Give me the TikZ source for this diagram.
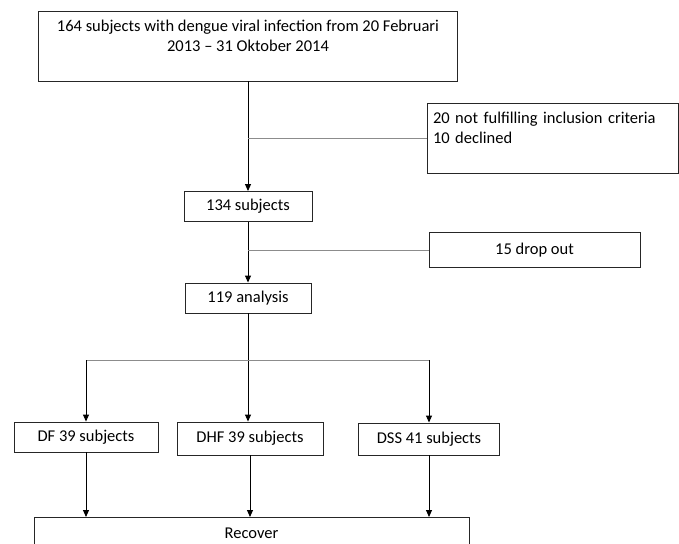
\documentclass[tikz,border=0pt]{standalone}
\usepackage{fontspec}
\setmainfont{Carlito}
\usetikzlibrary{arrows.meta}
\begin{document}
\begin{tikzpicture}[x=1pt,y=-1pt,
  box/.style={draw=black!85,line width=0.9pt,inner sep=0pt,font=\fontsize{16.5}{20}\selectfont},
  arr/.style={draw=black,line width=0.9pt,-{Triangle[length=7pt,width=6pt]}},
  thin/.style={draw=black!45,line width=0.9pt}]
\useasboundingbox (0,0) rectangle (679,543);
\fill[white] (0,0) rectangle (679,543);
\node[box,minimum width=419pt,minimum height=70pt,align=center] (top) at (248,46)
  {164 subjects with dengue viral infection from 20 Februari\\2013 -- 31 Oktober 2014\\\mbox{}};
\node[box,minimum width=251pt,minimum height=70pt,align=left,text width=239pt] (excl) at (552.5,138)
  {20 not fulfilling inclusion criteria\\10 declined\\\mbox{}};
\node[box,minimum width=128pt,minimum height=30pt] (s134) at (248,206.5) {134 subjects};
\node[box,minimum width=211pt,minimum height=35pt] (drop) at (534.5,250) {15 drop out};
\node[box,minimum width=126pt,minimum height=30pt] (s119) at (248,298) {119 analysis};
\node[box,minimum width=144pt,minimum height=30pt] (df) at (86,437) {DF 39 subjects};
\node[box,minimum width=146pt,minimum height=33pt] (dhf) at (250,438.5) {DHF 39 subjects};
\node[box,minimum width=141pt,minimum height=32pt] (dss) at (429,439) {DSS 41 subjects};
\node[box,minimum width=435pt,minimum height=32pt,anchor=north] (rec) at (251.5,517) {Recover};
\coordinate (split) at (248,360);
\draw[arr] (top.south) -- (s134.north);
\draw[thin] (excl.west) -- (excl.west -| s134);
\draw[arr] (s134.south) -- (s119.north);
\draw[thin] (drop.west) -- (drop.west -| s119);
\draw[arr] (s119.south) -- (s119.south |- dhf.north);
\draw[thin] (split -| df) -- (split -| dss);
\draw[arr] (split -| df) -- (df.north);
\draw[arr] (split -| dss) -- (dss.north);
\draw[arr] (df.south) -- (df.south |- rec.north);
\draw[arr] (dhf.south) -- (dhf.south |- rec.north);
\draw[arr] (dss.south) -- (dss.south |- rec.north);
\end{tikzpicture}
\end{document}
